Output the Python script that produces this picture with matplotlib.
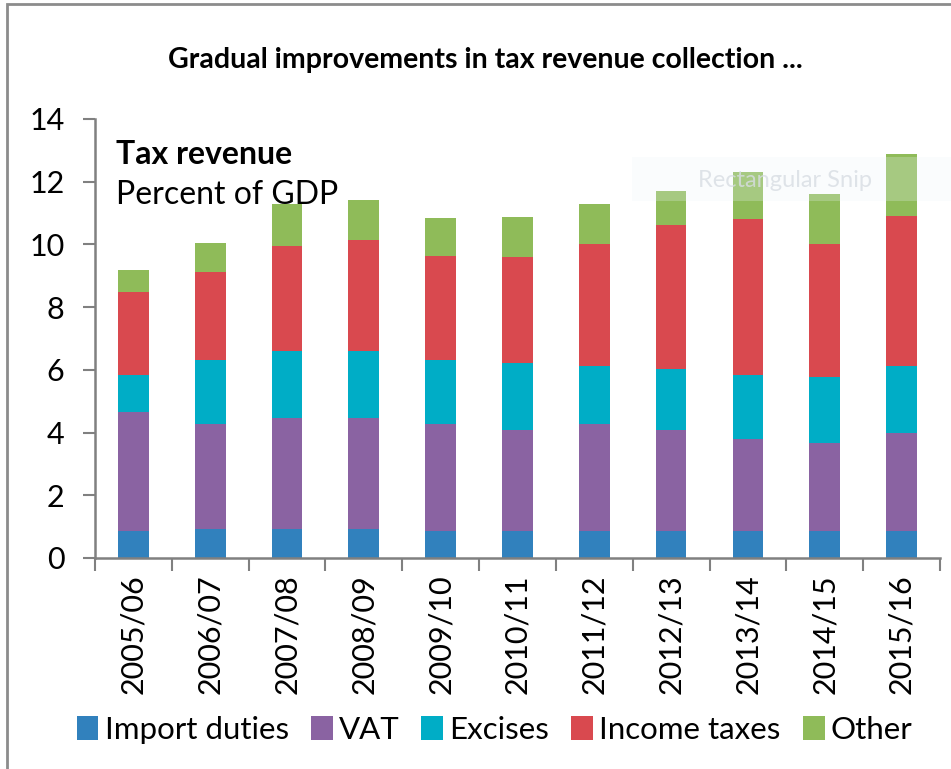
import matplotlib.pyplot as plt
import matplotlib.patches as mpatches
import numpy as np

# data (percent of GDP)
years = ['2005/06', '2006/07', '2007/08', '2008/09', '2009/10', '2010/11',
         '2011/12', '2012/13', '2013/14', '2014/15', '2015/16']
import_duties = [0.85, 0.94, 0.94, 0.94, 0.85, 0.85, 0.85, 0.85, 0.85, 0.85, 0.85]
vat = [3.80, 3.33, 3.52, 3.52, 3.42, 3.23, 3.42, 3.23, 2.94, 2.83, 3.15]
excises = [1.19, 2.05, 2.15, 2.15, 2.05, 2.15, 1.86, 1.96, 2.06, 2.08, 2.13]
income_taxes = [2.63, 2.81, 3.33, 3.52, 3.32, 3.38, 3.89, 4.57, 4.95, 4.26, 4.79]
other = [0.70, 0.91, 1.35, 1.28, 1.20, 1.27, 1.27, 1.10, 1.50, 1.59, 1.97]

series = ['Import duties', 'VAT', 'Excises', 'Income taxes', 'Other']
colors = ['#3181bd', '#8a63a2', '#00adc6', '#d9494f', '#8fbb59']

plt.rcParams['font.family'] = ['Lato', 'DejaVu Sans']

fig = plt.figure(figsize=(9.51, 7.69), dpi=100)
ax = fig.add_axes([0.0999, 0.2744, 0.8885, 0.5709])

x = np.arange(len(years))
bottom = np.zeros(len(years))
for name, vals, c in zip(series, [import_duties, vat, excises, income_taxes, other], colors):
    ax.bar(x, vals, width=0.40, bottom=bottom, color=c, label=name, zorder=2)
    bottom += np.array(vals)

ax.set_ylim(0, 14)
ax.set_xlim(-0.5, len(years) - 0.5)
ax.set_yticks(range(0, 15, 2))
ax.tick_params(axis='y', labelsize=22, length=9, width=1.5, color='#808080', pad=13)

# labels at bar centres, tick marks between categories
ax.set_xticks(x)
ax.set_xticklabels(years, rotation=90, fontsize=22)
ax.tick_params(axis='x', which='major', length=0, pad=12)
ax.set_xticks(np.arange(-0.5, len(years)), minor=True)
ax.tick_params(axis='x', which='minor', length=9, width=1.5, color='#808080')

for s in ['top', 'right']:
    ax.spines[s].set_visible(False)
for s in ['left', 'bottom']:
    ax.spines[s].set_color('#808080')
    ax.spines[s].set_linewidth(1.8)

# title and inner annotation
fig.text(0.51, 0.922, 'Gradual improvements in tax revenue collection ...',
         ha='center', va='center', fontsize=20.5, fontweight='bold')
ax.text(0.025, 0.918, 'Tax revenue', transform=ax.transAxes,
        fontsize=23, fontweight='bold', va='center')
ax.text(0.025, 0.827, 'Percent of GDP', transform=ax.transAxes,
        fontsize=23, va='center')

# faint snipping-tool overlay seen in the reference
fig.patches.append(mpatches.Rectangle((0.665, 0.738), 0.34, 0.058,
                                      transform=fig.transFigure,
                                      facecolor='#eef4fb', alpha=0.25,
                                      edgecolor='none', zorder=5))
fig.text(0.825, 0.765, 'Rectangular Snip', ha='center', va='center',
         fontsize=17, color='#d8dde3', alpha=0.8, zorder=6)

# outer frame
fig.patches.append(mpatches.Rectangle((0.007, -0.1), 1.1, 1.095,
                                      transform=fig.transFigure,
                                      facecolor='none', edgecolor='#8c8c8c',
                                      linewidth=2))

fig.legend(loc='center', bbox_to_anchor=(0.52, 0.051), ncol=5, frameon=False,
           fontsize=22.5, handlelength=0.7, handleheight=0.8,
           handletextpad=0.2, columnspacing=0.7, borderaxespad=0)

fig.savefig('out.png', dpi=100)
